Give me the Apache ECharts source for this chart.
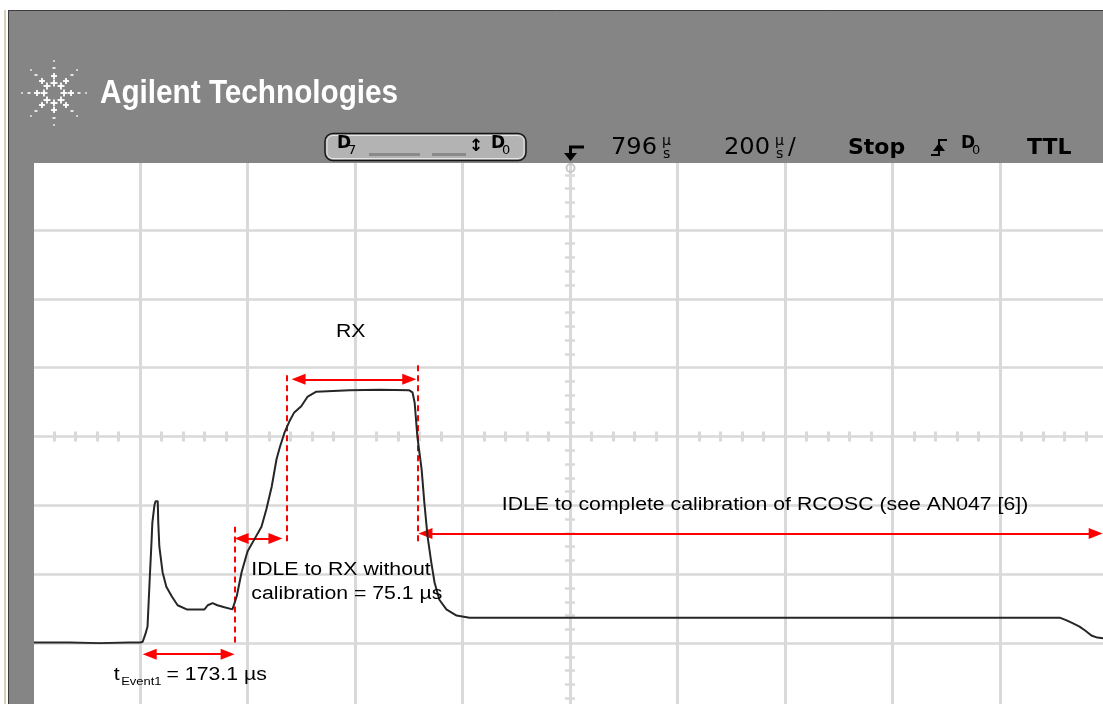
<!DOCTYPE html>
<html><head><meta charset="utf-8">
<script src="https://cdn.jsdelivr.net/npm/echarts@6/dist/echarts.min.js"></script>
<style>html,body{margin:0;padding:0;background:#fff;}#c{width:1103px;height:704px;}</style>
</head><body><div id="c"></div>
<script>
// ---------- DATA (time: µs relative to screen centre, 200 µs/div; level: vertical divisions) ----------
const timeMin = -1000, timeMax = 1000, timeStep = 200;
const levelMin = -4, levelMax = 4, levelStep = 1;

const traceTime = [-1000, -931, -875, -820, -799, -795, -790, -786, -782, -779, -777, -773, -771, -767, -766, -764,
  -758, -751, -741, -730, -713, -680, -674, -665, -656, -643, -628, -620, -611, -600, -587, -574, -565, -555, -546,
  -540, -531, -522, -513, -500, -488, -472, -410, -354, -299, -293, -289, -284, -276, -271, -265, -258, -252, -243,
  -230, -211, -187, 55, 427, 799, 911, 924, 935, 948, 959, 970, 981, 993, 1000];
const traceLevel = [-2.99, -2.99, -3.00, -2.99, -2.99, -2.98, -2.87, -2.76, -2.08, -1.60, -1.25, -0.99, -0.94, -0.94,
  -1.25, -1.60, -1.97, -2.18, -2.32, -2.45, -2.51, -2.51, -2.45, -2.42, -2.45, -2.48, -2.51, -2.32, -1.97, -1.67,
  -1.49, -1.31, -1.06, -0.73, -0.33, -0.16, 0.06, 0.22, 0.35, 0.44, 0.58, 0.65, 0.67, 0.68, 0.67, 0.64, 0.49, 0.00,
  -0.48, -0.96, -1.45, -1.83, -2.12, -2.37, -2.51, -2.60, -2.63, -2.63, -2.63, -2.63, -2.63, -2.67, -2.71, -2.76,
  -2.82, -2.89, -2.92, -2.93, -2.95];

// double-headed span arrows (arrow tip positions)
const spanStart = [-795, -624, -518, -282];
const spanEnd   = [-624, -535, -286, 991];
const spanLevel = [-3.16, -1.48, 0.83, -1.41];
// dashed cursor markers
const cursorTime = [-624, -527, -284];
const cursorLow  = [-2.99, -1.52, -1.52];
const cursorHigh = [-1.31, 0.93, 1.05];

// annotation texts
const noteText  = ['RX', 'IDLE to complete calibration of RCOSC (see AN047 [6])', 'IDLE to RX without\ncalibration = 75.1 µs'];
const noteTime  = [-408, -127, -593];
const noteLevel = [1.51, -1.00, -2.11];
const noteAlign = ['center', 'left', 'left'];
const eventLabel = ['t', 'Event1', ' = 173.1 µs'];
const eventTime = -849, eventLevel = -3.47;

// scope status bar texts
const headerTitle = 'Agilent Technologies';
const delayText = '796', timebaseText = '200', runText = 'Stop', trigSrc = 'D', levelText = 'TTL';

// ---------- CHART ----------
const chart = echarts.init(document.getElementById('c'), null, {renderer: 'canvas', devicePixelRatio: 1});
const gridCol = '#d9d9d9';
const RED = '#ff0000';
const ARROW = [11, 14];
const GRID = {left: 32.5, top: 161, width: 1075, height: 551};
// triangle symbols are centred on the line end: pull the ends in by half a head so the tip sits on the value
const halfHead = (ARROW[1] / 2) * (timeMax - timeMin) / GRID.width;

function axisX(pos, withSplit) {
  return {
    type: 'value', position: pos, min: timeMin, max: timeMax, interval: timeStep,
    axisLabel: {show: false}, axisTick: {show: false},
    axisLine: {show: false, onZero: true, onZeroAxisIndex: 0},
    splitLine: {show: withSplit, lineStyle: {color: gridCol, width: 3}},
    minorTick: {show: true, splitNumber: 5, length: 5, lineStyle: {color: gridCol, width: 3}}
  };
}
function axisY(pos, withSplit) {
  return {
    type: 'value', position: pos, min: levelMin, max: levelMax, interval: levelStep,
    axisLabel: {show: false}, axisTick: {show: false},
    axisLine: {show: false, onZero: true, onZeroAxisIndex: 0},
    splitLine: {show: withSplit, lineStyle: {color: gridCol, width: 2.5}},
    minorTick: {show: true, splitNumber: 5, length: 5, lineStyle: {color: gridCol, width: 2.5}}
  };
}

const markData = [];
spanStart.forEach((s, i) => {
  markData.push([{coord: [s + halfHead, spanLevel[i]], symbol: 'triangle', lineStyle: {type: 'solid', color: RED, width: 2}},
                 {coord: [spanEnd[i] - halfHead, spanLevel[i]], symbol: 'triangle'}]);
});
cursorTime.forEach((t, i) => {
  markData.push([{coord: [t, cursorLow[i]], symbol: 'none', lineStyle: {type: [6, 4], color: RED, width: 2}},
                 {coord: [t, cursorHigh[i]], symbol: 'none'}]);
});

chart.setOption({
  animation: false,
  backgroundColor: '#ffffff',
  grid: Object.assign({containLabel: false, outerBoundsMode: 'none'}, GRID),
  xAxis: [axisX('bottom', true), axisX('top', false)],
  yAxis: [axisY('left', true), axisY('right', false)],
  series: [{
    type: 'line', xAxisIndex: 0, yAxisIndex: 0,
    data: traceTime.map((t, i) => [t, traceLevel[i]]),
    symbol: 'none', showSymbol: false, silent: true, z: 5,
    lineStyle: {color: '#262626', width: 2},
    markLine: {
      silent: true, animation: false, symbol: ['triangle', 'triangle'], symbolSize: ARROW,
      label: {show: false}, emphasis: {disabled: true},
      lineStyle: {type: 'solid', color: RED, width: 2},
      data: markData
    }
  }]
});

// ---------- DECORATION (scope frame) ----------
const Z = 100;
const GRAY = '#858585';
const G = [];
function rect(x, y, w, h, fill, z) { return {type: 'rect', z: z || Z + 1, silent: true, shape: {x: x, y: y, width: w, height: h}, style: {fill: fill}}; }
function txt(x, y, s, size, opts) {
  opts = opts || {};
  return {type: 'text', z: Z + 2, silent: true, x: x, y: y, scaleX: opts.sx || 1,
    style: {text: s, fontSize: size, fontFamily: opts.ff || 'DejaVu Sans', fontWeight: opts.fw || 'normal',
      fill: opts.fill || '#000', align: opts.align || 'left', verticalAlign: 'middle', lineHeight: opts.lh || size}};
}
G.push(rect(8, 10, 1095, 153, GRAY, Z));
G.push(rect(8, 163, 26, 541, GRAY, Z));
G.push(rect(4, 10, 2, 694, '#d6d1b8', Z));
G.push({type: 'line', z: Z + 1, silent: true, shape: {x1: 8, y1: 10.5, x2: 1103, y2: 10.5}, style: {stroke: '#3c3c3c', lineWidth: 1}});
G.push({type: 'line', z: Z + 1, silent: true, shape: {x1: 8.5, y1: 10, x2: 8.5, y2: 704}, style: {stroke: '#3c3c3c', lineWidth: 1}});

// starburst logo
(function (cx, cy) {
  const R = [10, 17, 25, 32];
  for (let k = 0; k < 8; k++) {
    const a = k * Math.PI / 4, c = Math.cos(a), s = Math.sin(a);
    R.forEach((r, i) => {
      const x = Math.round(cx + r * c), y = Math.round(cy + r * s);
      if (i < 2) {
        const h = i === 0 ? 3.5 : 3;
        G.push(rect(x - h, y - 0.9, 2 * h, 1.8, '#fff'));
        G.push(rect(x - 0.9, y - h, 1.8, 2 * h, '#fff'));
      } else if (i === 2) {
        G.push(rect(x - 1.5, y - 0.8, 3, 1.6, '#fff'));
      } else {
        G.push(rect(x - 0.8, y - 0.8, 1.6, 1.6, '#fff'));
      }
    });
  }
})(54, 93);
G.push(txt(100, 94, headerTitle, 33, {fw: 'bold', fill: '#fff', ff: 'Liberation Sans', sx: 0.9}));

// channel box
G.push({type: 'rect', z: Z + 1, silent: true, shape: {x: 325, y: 133.5, width: 201, height: 27, r: 8}, style: {fill: '#b3b3b3', stroke: '#141414', lineWidth: 1.5}});
G.push({type: 'rect', z: Z + 1, silent: true, shape: {x: 327, y: 135.5, width: 197, height: 23, r: 6}, style: {fill: 'none', stroke: '#e6e6e6', lineWidth: 1}});
G.push(txt(337, 144, 'D', 17, {fw: 'bold'}));
G.push(txt(348, 151, '7', 13));
G.push(rect(369, 153, 51, 3, '#8a8a8a'));
G.push(rect(432, 153, 34, 3, '#8a8a8a'));
G.push(txt(476, 147, '↕', 17, {fw: 'bold', align: 'center'}));
G.push(txt(491, 144, 'D', 17, {fw: 'bold'}));
G.push(txt(502, 151, '0', 13));

// trigger position marker
G.push({type: 'polyline', z: Z + 2, silent: true, shape: {points: [[584, 147], [570.5, 147], [570.5, 155]]}, style: {stroke: '#000', lineWidth: 3, fill: 'none'}});
G.push({type: 'polygon', z: Z + 2, silent: true, shape: {points: [[564, 153], [577, 153], [570.5, 161]]}, style: {fill: '#000'}});
G.push({type: 'circle', z: Z + 2, silent: true, shape: {cx: 570.5, cy: 168, r: 4}, style: {fill: 'none', stroke: '#c8c8c8', lineWidth: 2}});

// status texts
G.push(txt(611, 148, delayText, 23, {sx: 1.05}));
G.push(txt(662, 141, 'µ', 14));
G.push(txt(663, 154, 's', 14));
G.push(txt(724, 148, timebaseText, 23, {sx: 1.05}));
G.push(txt(775, 141, 'µ', 14));
G.push(txt(776, 154, 's', 14));
G.push(txt(788, 148, '/', 23));
G.push(txt(848, 148, runText, 22, {fw: 'bold'}));
G.push({type: 'polyline', z: Z + 2, silent: true, shape: {points: [[931, 155], [939, 155], [939, 140], [947, 140]]}, style: {stroke: '#000', lineWidth: 2, fill: 'none'}});
G.push({type: 'polygon', z: Z + 2, silent: true, shape: {points: [[933, 151], [945, 151], [939, 143]]}, style: {fill: '#000'}});
G.push(txt(961, 144, trigSrc, 17, {fw: 'bold'}));
G.push(txt(972, 151, '0', 13));
G.push(txt(1027, 148, levelText, 22, {fw: 'bold'}));

// annotation texts anchored in data coordinates
noteText.forEach((s, i) => {
  const p = chart.convertToPixel({gridIndex: 0}, [noteTime[i], noteLevel[i]]);
  G.push(txt(p[0], p[1], s, 18, {ff: 'Liberation Sans', align: noteAlign[i], sx: 1.18, lh: 24}));
});
(function () {
  const p = chart.convertToPixel({gridIndex: 0}, [eventTime, eventLevel]);
  G.push(txt(p[0], p[1], eventLabel[0], 18, {ff: 'Liberation Sans', sx: 1.18}));
  G.push(txt(p[0] + 7.5, p[1] + 6, eventLabel[1], 11, {ff: 'Liberation Sans', sx: 1.18}));
  G.push(txt(p[0] + 47, p[1], eventLabel[2], 18, {ff: 'Liberation Sans', sx: 1.18}));
})();

chart.setOption({graphic: {elements: G}});
</script>
</body></html>
